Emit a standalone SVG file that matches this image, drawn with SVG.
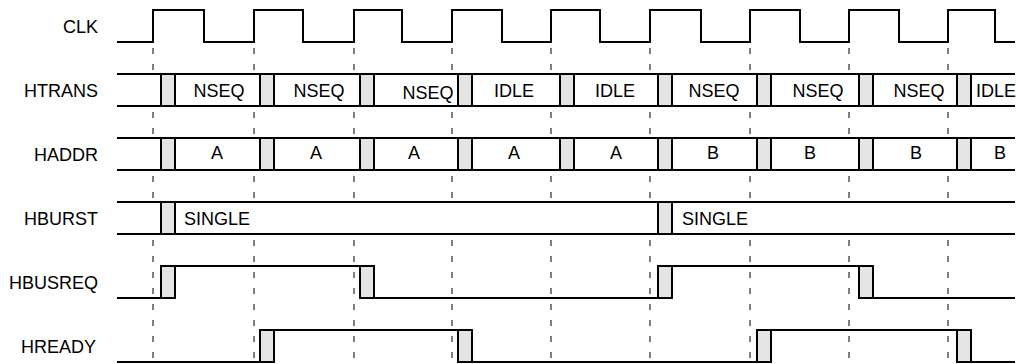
<svg xmlns="http://www.w3.org/2000/svg" width="1018" height="364" viewBox="0 0 1018 364">
<style>
  .lbl{font-family:"Liberation Sans",Arial,sans-serif;font-size:18px;fill:#000;text-anchor:end}
  .val{font-family:"Liberation Sans",Arial,sans-serif;font-size:18px;fill:#000;text-anchor:middle}
  .sig{fill:none;stroke:#000;stroke-width:2}
  .bus{fill:#fff;stroke:none}
  .tr{fill:#e4e4e4;stroke:#000;stroke-width:2}
  .grid{stroke:#555;stroke-width:1.5;stroke-dasharray:6 10;fill:none}
</style>
<rect width="1018" height="364" fill="#fff"/>
<g id="gridlines">
  <line class="grid" x1="153" y1="48" x2="153" y2="364"/>
  <line class="grid" x1="254" y1="48" x2="254" y2="364"/>
  <line class="grid" x1="354" y1="48" x2="354" y2="364"/>
  <line class="grid" x1="452" y1="48" x2="452" y2="364"/>
  <line class="grid" x1="551" y1="48" x2="551" y2="364"/>
  <line class="grid" x1="650" y1="48" x2="650" y2="364"/>
  <line class="grid" x1="750" y1="48" x2="750" y2="364"/>
  <line class="grid" x1="849" y1="48" x2="849" y2="364"/>
  <line class="grid" x1="948" y1="48" x2="948" y2="364"/>
</g>
<g id="CLK">
  <text class="lbl" x="98" y="33">CLK</text>
  <path class="sig" d="M117,42 H153 V10 H204 V42 H254 V10 H303 V42 H354 V10 H402 V42 H452 V10 H502 V42 H551 V10 H600 V42 H650 V10 H701 V42 H750 V10 H800 V42 H849 V10 H899 V42 H948 V10 H995 V42 H1015"/>
</g>
<g id="HTRANS">
  <text class="lbl" x="98" y="97">HTRANS</text>
  <rect class="bus" x="117" y="74" width="898" height="32"/>
  <path class="sig" d="M117,74 H1015 M117,106 H1015"/>
  <rect class="tr" x="161" y="74" width="14" height="32"/>
  <rect class="tr" x="260" y="74" width="14" height="32"/>
  <rect class="tr" x="360" y="74" width="14" height="32"/>
  <rect class="tr" x="458" y="74" width="14" height="32"/>
  <rect class="tr" x="560" y="74" width="14" height="32"/>
  <rect class="tr" x="658" y="74" width="14" height="32"/>
  <rect class="tr" x="757" y="74" width="14" height="32"/>
  <rect class="tr" x="859" y="74" width="14" height="32"/>
  <rect class="tr" x="957" y="74" width="14" height="32"/>
  <text class="val" x="219" y="97">NSEQ</text>
  <text class="val" x="319" y="97">NSEQ</text>
  <text class="val" x="428" y="99">NSEQ</text>
  <text class="val" x="514" y="97">IDLE</text>
  <text class="val" x="615" y="97">IDLE</text>
  <text class="val" x="714" y="97">NSEQ</text>
  <text class="val" x="818" y="97">NSEQ</text>
  <text class="val" x="919" y="97">NSEQ</text>
  <text class="val" x="976" y="97" style="text-anchor:start">IDLE</text>
</g>
<g id="HADDR">
  <text class="lbl" x="98" y="161">HADDR</text>
  <rect class="bus" x="117" y="138" width="898" height="32"/>
  <path class="sig" d="M117,138 H1015 M117,170 H1015"/>
  <rect class="tr" x="161" y="138" width="14" height="32"/>
  <rect class="tr" x="260" y="138" width="14" height="32"/>
  <rect class="tr" x="360" y="138" width="14" height="32"/>
  <rect class="tr" x="458" y="138" width="14" height="32"/>
  <rect class="tr" x="560" y="138" width="14" height="32"/>
  <rect class="tr" x="658" y="138" width="14" height="32"/>
  <rect class="tr" x="757" y="138" width="14" height="32"/>
  <rect class="tr" x="859" y="138" width="14" height="32"/>
  <rect class="tr" x="957" y="138" width="14" height="32"/>
  <text class="val" x="217" y="159">A</text>
  <text class="val" x="316" y="159">A</text>
  <text class="val" x="414" y="159">A</text>
  <text class="val" x="514" y="159">A</text>
  <text class="val" x="616" y="159">A</text>
  <text class="val" x="713" y="159">B</text>
  <text class="val" x="810" y="159">B</text>
  <text class="val" x="916" y="159">B</text>
  <text class="val" x="1000" y="159">B</text>
</g>
<g id="HBURST">
  <text class="lbl" x="98" y="225">HBURST</text>
  <rect class="bus" x="117" y="202" width="898" height="32"/>
  <path class="sig" d="M117,202 H1015 M117,234 H1015"/>
  <rect class="tr" x="161" y="202" width="14" height="32"/>
  <rect class="tr" x="658" y="202" width="14" height="32"/>
  <text class="val" x="184" y="225" style="text-anchor:start">SINGLE</text>
  <text class="val" x="682" y="225" style="text-anchor:start">SINGLE</text>
</g>
<g id="HBUSREQ">
  <text class="lbl" x="98" y="289">HBUSREQ</text>
  <path class="sig" d="M117,298 H175 M161,266 H375 M360,298 H672 M658,266 H873 M859,298 H1015"/>
  <rect class="tr" x="161" y="266" width="14" height="32"/>
  <rect class="tr" x="360" y="266" width="14" height="32"/>
  <rect class="tr" x="658" y="266" width="14" height="32"/>
  <rect class="tr" x="859" y="266" width="14" height="32"/>
</g>
<g id="HREADY">
  <text class="lbl" x="96" y="353">HREADY</text>
  <path class="sig" d="M117,362 H274 M260,330 H472 M458,362 H771 M757,330 H971 M957,362 H1015"/>
  <rect class="tr" x="260" y="330" width="14" height="32"/>
  <rect class="tr" x="458" y="330" width="14" height="32"/>
  <rect class="tr" x="757" y="330" width="14" height="32"/>
  <rect class="tr" x="957" y="330" width="14" height="32"/>
</g>
</svg>
